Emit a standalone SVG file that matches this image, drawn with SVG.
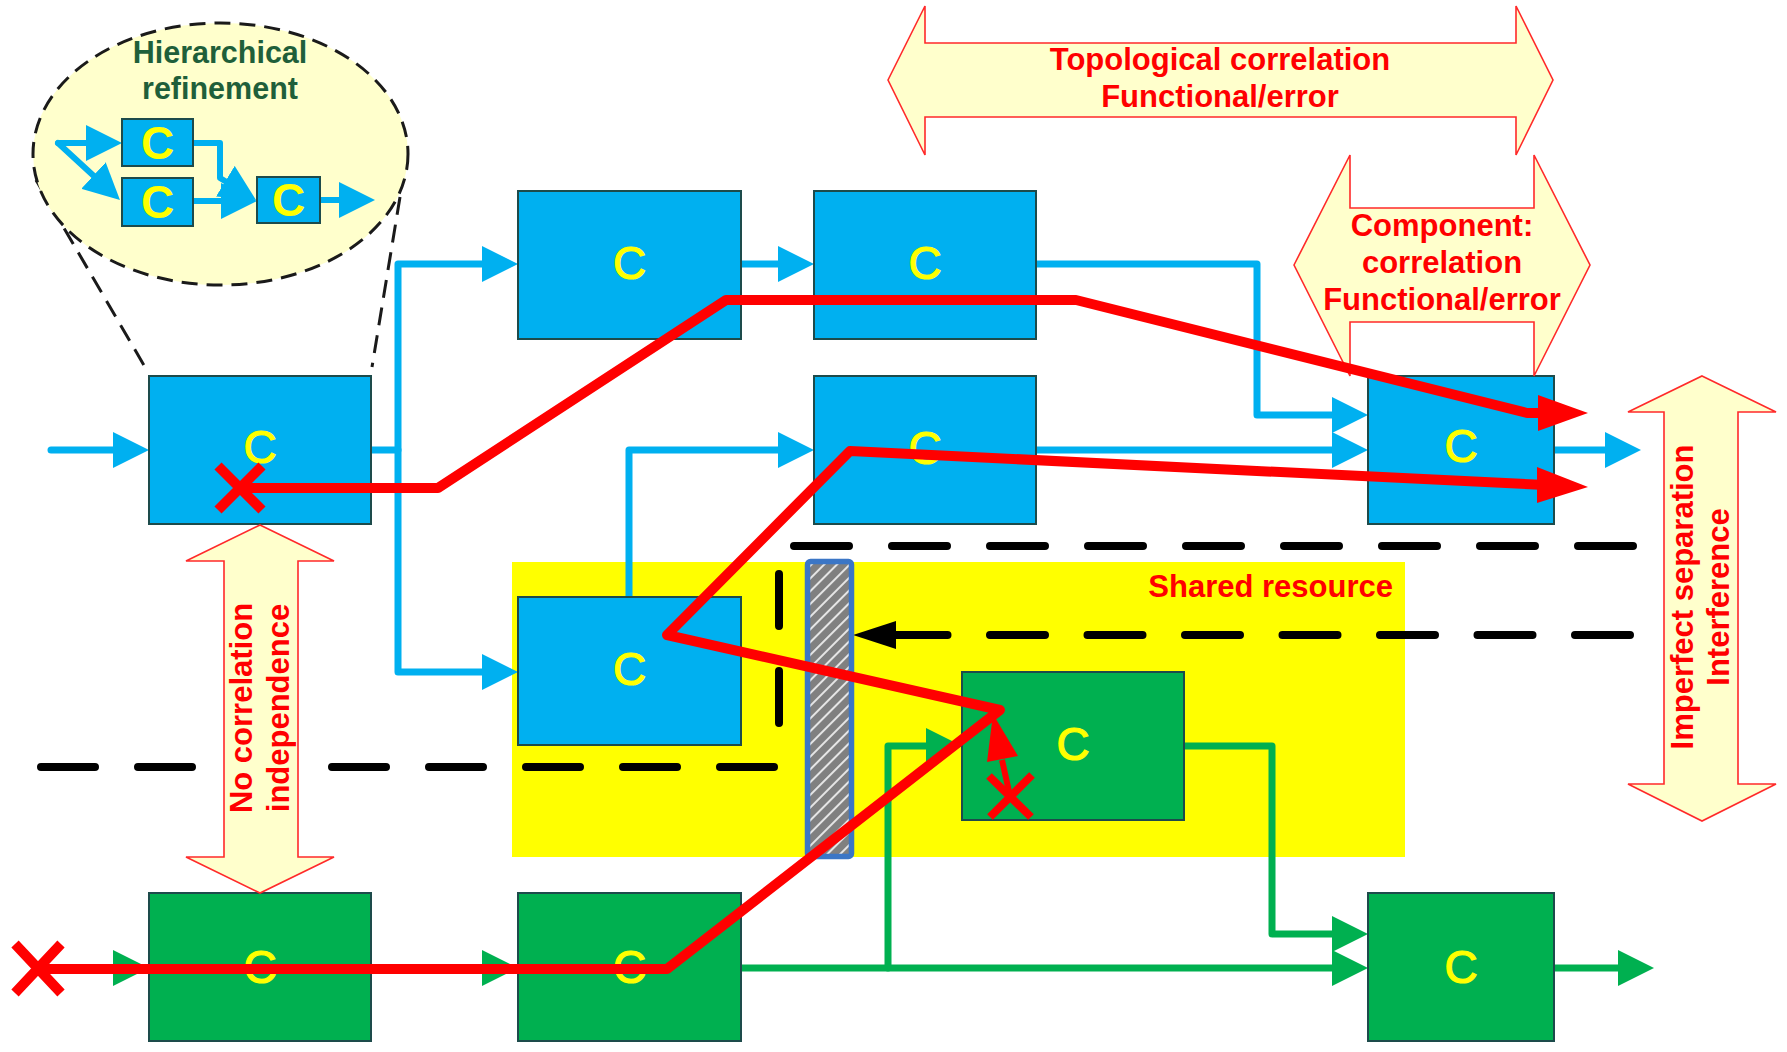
<svg xmlns="http://www.w3.org/2000/svg" width="1787" height="1052" viewBox="0 0 1787 1052">
  <defs>
    <style>
      .box-b{fill:#00B0F0;stroke:#1D4B4B;stroke-width:2}
      .box-g{fill:#00B050;stroke:#1D4B4B;stroke-width:2}
      .c{font-family:"Liberation Sans",Arial,sans-serif;font-size:46px;fill:#FFFF00;stroke:#FFFF00;stroke-width:1.2;text-anchor:middle}
      .cm{font-family:"Liberation Sans",Arial,sans-serif;font-size:46px;font-weight:bold;fill:#FFFF00;text-anchor:middle}
      .lbl{font-family:"Liberation Sans",Arial,sans-serif;font-weight:bold;font-size:31px;fill:#FF0000;text-anchor:middle}
      .hier{font-family:"Liberation Sans",Arial,sans-serif;font-weight:bold;font-size:30.5px;fill:#1F5F3A;text-anchor:middle}
      .dbl{fill:#FFFFCC;stroke:#FF2A2A;stroke-width:1.6;stroke-linejoin:miter}
      .wire-b{fill:none;stroke:#00B0F0;stroke-width:7;stroke-linejoin:round;stroke-linecap:round}
      .wire-m{fill:none;stroke:#00B0F0;stroke-width:6;stroke-linejoin:round;stroke-linecap:round}
      .wire-g{fill:none;stroke:#00B050;stroke-width:7;stroke-linejoin:round;stroke-linecap:round}
      .red{fill:none;stroke:#FF0000;stroke-width:10;stroke-linejoin:round}
      .sep{fill:none;stroke:#000;stroke-width:8;stroke-linecap:round}
      .cone{fill:none;stroke:#1A1A1A;stroke-width:3;stroke-dasharray:18 10}
    </style>
    <marker id="ah-b" markerUnits="userSpaceOnUse" markerWidth="36" markerHeight="36" viewBox="0 0 36 36" refX="26" refY="18" orient="auto">
      <path d="M0,0 L36,18 L0,36 z" fill="#00B0F0"/>
    </marker>
    <marker id="ah-g" markerUnits="userSpaceOnUse" markerWidth="36" markerHeight="36" viewBox="0 0 36 36" refX="26" refY="18" orient="auto">
      <path d="M0,0 L36,18 L0,36 z" fill="#00B050"/>
    </marker>
    <pattern id="hatch" patternUnits="userSpaceOnUse" width="9" height="9" patternTransform="rotate(45)">
      <rect width="9" height="9" fill="#808080"/>
      <line x1="1" y1="0" x2="1" y2="9" stroke="#FFFFFF" stroke-width="1.6"/>
    </pattern>
  </defs>

  <rect width="1787" height="1052" fill="#FFFFFF"/>

  <!-- shared resource area -->
  <g id="shared-resource">
    <rect x="512" y="562" width="893" height="295" fill="#FFFF00"/>
    <text class="lbl" x="1393" y="597" style="text-anchor:end">Shared resource</text>
  </g>

  <!-- hierarchical refinement callout -->
  <g id="refinement">
    <path class="cone" d="M36,180 L145,367"/>
    <path class="cone" d="M400,197 L372,367"/>
    <ellipse cx="220.5" cy="154" rx="187.5" ry="131" fill="#FFFFCC" stroke="#1A1A1A" stroke-width="3" stroke-dasharray="16 9"/>
    <text class="hier" x="220" y="63">Hierarchical</text>
    <text class="hier" x="220" y="99">refinement</text>
    <path class="wire-m" d="M58,143 H112" marker-end="url(#ah-b)"/>
    <path class="wire-m" d="M58,143 L112.6,193.2" marker-end="url(#ah-b)"/>
    <path class="wire-m" d="M193,143 H220 V178 L247.5,194.8" marker-end="url(#ah-b)"/>
    <path class="wire-m" d="M193,201 H247" marker-end="url(#ah-b)"/>
    <path class="wire-m" d="M320,200 H365" marker-end="url(#ah-b)"/>
    <g id="mini-c1"><rect class="box-b" x="122" y="119" width="71" height="47"/><text class="cm" x="157.5" y="159">C</text></g>
    <g id="mini-c2"><rect class="box-b" x="122" y="178" width="71" height="48"/><text class="cm" x="157.5" y="218">C</text></g>
    <g id="mini-c3"><rect class="box-b" x="257" y="177" width="63" height="46"/><text class="cm" x="288.5" y="216">C</text></g>
  </g>

  <!-- separation lines -->
  <g id="separators">
    <path class="sep" d="M794,546 H1634" stroke-dasharray="55 43"/>
    <path class="sep" d="M1630,635 H896" stroke-dasharray="55 42.5"/>
    <polygon points="853,635 896,621 896,649" fill="#000"/>
    <path class="sep" d="M41,767 H781" stroke-dasharray="54 43"/>
    <path class="sep" d="M779,574 V729" stroke-dasharray="52 45"/>
  </g>

  <!-- data-flow connectors -->
  <g id="connectors">
    <path class="wire-b" d="M51,450 H139" marker-end="url(#ah-b)"/>
    <path class="wire-b" d="M371,450 H398 V264 H508" marker-end="url(#ah-b)"/>
    <path class="wire-b" d="M398,450 V672 H508" marker-end="url(#ah-b)"/>
    <path class="wire-b" d="M741,264 H804" marker-end="url(#ah-b)"/>
    <path class="wire-b" d="M1036,264 H1257 V415 H1358" marker-end="url(#ah-b)"/>
    <path class="wire-b" d="M1036,450 H1358" marker-end="url(#ah-b)"/>
    <path class="wire-b" d="M629,597 V450 H804" marker-end="url(#ah-b)"/>
    <path class="wire-b" d="M1554,450 H1631" marker-end="url(#ah-b)"/>

    <path class="wire-g" d="M60,968 H139" marker-end="url(#ah-g)"/>
    <path class="wire-g" d="M371,968 H508" marker-end="url(#ah-g)"/>
    <path class="wire-g" d="M741,968 H1358" marker-end="url(#ah-g)"/>
    <path class="wire-g" d="M888,968 V746 H952" marker-end="url(#ah-g)"/>
    <path class="wire-g" d="M1184,746 H1272 V934 H1358" marker-end="url(#ah-g)"/>
    <path class="wire-g" d="M1554,968 H1644" marker-end="url(#ah-g)"/>
  </g>

  <!-- components -->
  <g id="comp-a"><rect class="box-b" x="149" y="376" width="222" height="148"/><text class="c" x="260" y="463">C</text></g>
  <g id="comp-b1"><rect class="box-b" x="518" y="191" width="223" height="148"/><text class="c" x="629.5" y="279">C</text></g>
  <g id="comp-b2"><rect class="box-b" x="814" y="191" width="222" height="148"/><text class="c" x="925" y="279">C</text></g>
  <g id="comp-b3"><rect class="box-b" x="814" y="376" width="222" height="148"/><text class="c" x="925" y="464">C</text></g>
  <g id="comp-d"><rect class="box-b" x="1368" y="376" width="186" height="148"/><text class="c" x="1461" y="462">C</text></g>
  <g id="comp-e"><rect class="box-b" x="518" y="597" width="223" height="148"/><text class="c" x="629.5" y="685">C</text></g>
  <g id="comp-f"><rect class="box-g" x="962" y="672" width="222" height="148"/><text class="c" x="1073" y="760">C</text></g>
  <g id="comp-g1"><rect class="box-g" x="149" y="893" width="222" height="148"/><text class="c" x="260" y="983">C</text></g>
  <g id="comp-g2"><rect class="box-g" x="518" y="893" width="223" height="148"/><text class="c" x="629.5" y="983">C</text></g>
  <g id="comp-g3"><rect class="box-g" x="1368" y="893" width="186" height="148"/><text class="c" x="1461" y="983">C</text></g>

  <!-- shared resource barrier -->
  <g id="barrier">
    <rect x="807.5" y="561.5" width="44" height="295" rx="3" fill="url(#hatch)" stroke="#3B76C6" stroke-width="5.5"/>
  </g>

  <!-- correlation annotations -->
  <g id="topological">
    <polygon class="dbl" points="888,80 925,6 925,43 1516,43 1516,6 1553,80 1516,155 1516,117 925,117 925,155"/>
    <text class="lbl" x="1220" y="70">Topological correlation</text>
    <text class="lbl" x="1220" y="107">Functional/error</text>
  </g>
  <g id="component-correlation">
    <polygon class="dbl" points="1294,265 1350,155 1350,208 1534,208 1534,155 1590,265 1534,376 1534,322 1350,322 1350,376"/>
    <text class="lbl" x="1442" y="236">Component:</text>
    <text class="lbl" x="1442" y="273">correlation</text>
    <text class="lbl" x="1442" y="310">Functional/error</text>
  </g>
  <g id="independence">
    <polygon class="dbl" points="260,525 334,561 298,561 298,857 334,857 260,893 186,857 224,857 224,561 186,561"/>
    <text class="lbl" transform="translate(252,708) rotate(-90)">No correlation</text>
    <text class="lbl" transform="translate(289,708) rotate(-90)">independence</text>
  </g>
  <g id="interference">
    <polygon class="dbl" points="1702,376 1776,412 1738,412 1738,784 1776,784 1702,821 1628,784 1664,784 1664,412 1628,412"/>
    <text class="lbl" transform="translate(1693,597) rotate(-90)">Imperfect separation</text>
    <text class="lbl" transform="translate(1729,597) rotate(-90)">Interference</text>
  </g>

  <!-- error propagation paths -->
  <g id="error-paths">
    <path class="red" d="M240,488 L438,488 L726,300 L1076,300 L1527,413 L1545,413"/>
    <polygon points="1538,395 1588,413 1538,431" fill="#FF0000"/>
    <path class="red" d="M38,969 L667,969 L1000,710 L667,635 L850,451 L1545,485"/>
    <polygon points="1537,467 1588,487 1537,503" fill="#FF0000"/>
    <path d="M1010,796 L1002,760" stroke="#FF0000" stroke-width="6" fill="none"/>
    <polygon points="993,714 1018,756 987,762" fill="#FF0000"/>
    <path d="M218,466 L262,510 M262,466 L218,510" stroke="#FF0000" stroke-width="10" fill="none"/>
    <path d="M15,944 L61,993 M61,944 L15,993" stroke="#FF0000" stroke-width="10" fill="none"/>
    <path d="M989,776 L1031,817 M1032,775 L990,817" stroke="#FF0000" stroke-width="8" fill="none"/>
  </g>
</svg>
